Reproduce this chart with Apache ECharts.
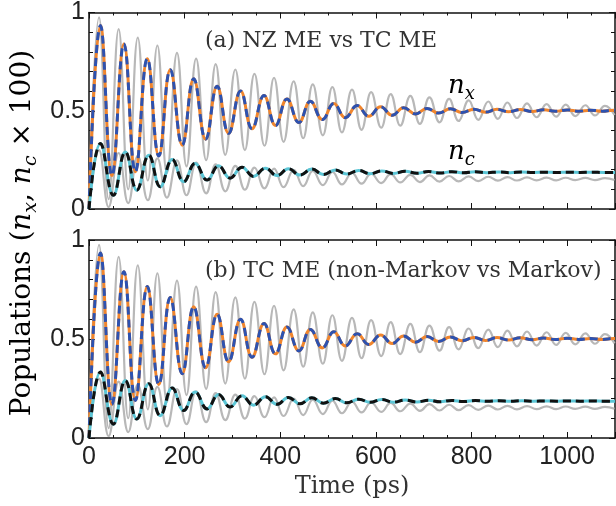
<!DOCTYPE html>
<html><head><meta charset="utf-8">
<script src="https://cdn.jsdelivr.net/npm/echarts@6/dist/echarts.min.js"></script>
<style>html,body{margin:0;padding:0;background:#fff}#c{width:616px;height:506px}</style>
</head><body><div id="c"></div>
<script>
// n_x (TC ME / NZ ME, overlapping) : [time ps, population]
const nxTC = [[0,0],[24,0.934],[48,0.17],[73,0.84],[97,0.19],[122,0.765],[146,0.27],[170,0.709],[195,0.325],[219,0.663],[244,0.355],[268,0.625],[292,0.385],[317,0.6],[341,0.408],[366,0.578],[390,0.425],[414,0.56],[439,0.44],[463,0.548],[488,0.455],[512,0.537],[536,0.465],[561,0.527],[585,0.472],[610,0.52],[634,0.477],[658,0.515],[683,0.484],[707,0.512],[731,0.488],[756,0.51],[780,0.491],[805,0.508],[829,0.493],[853,0.507],[878,0.495],[902,0.506],[927,0.496],[951,0.505],[975,0.497],[1000,0.504],[1024,0.498],[1049,0.503],[1073,0.498],[1097,0.503],[1100,0.503]];
const nxNZ = nxTC;
// n_c x 100
const ncTC = [[0,0],[24,0.333],[51,0.07],[76,0.29],[100,0.096],[125,0.274],[149,0.113],[174,0.252],[198,0.139],[222,0.232],[247,0.147],[271,0.22],[295,0.157],[320,0.213],[344,0.166],[369,0.208],[393,0.17],[417,0.205],[441,0.173],[466,0.203],[490,0.176],[515,0.199],[539,0.178],[564,0.196],[588,0.18],[612,0.194],[637,0.181],[661,0.192],[686,0.182],[710,0.191],[734,0.183],[759,0.19],[783,0.184],[808,0.189],[832,0.185],[857,0.188],[881,0.185],[905,0.188],[930,0.186],[954,0.187],[979,0.186],[1003,0.187],[1027,0.186],[1052,0.187],[1076,0.186],[1100,0.186]];
const ncNZ = ncTC;
// grey reference curves
const grayNx = [[0,0],[21,0.975],[41,0.05],[62,0.915],[82,0.1],[102,0.872],[123,0.145],[143,0.832],[163,0.183],[184,0.795],[204,0.217],[224,0.765],[245,0.248],[265,0.737],[285,0.275],[306,0.71],[326,0.3],[346,0.688],[367,0.322],[387,0.668],[407,0.342],[428,0.65],[448,0.36],[468,0.634],[489,0.375],[509,0.62],[529,0.39],[550,0.607],[570,0.403],[590,0.595],[611,0.414],[631,0.585],[651,0.424],[672,0.576],[692,0.433],[712,0.568],[733,0.441],[753,0.56],[773,0.448],[794,0.553],[814,0.454],[835,0.547],[855,0.459],[875,0.542],[895,0.463],[916,0.538],[936,0.467],[957,0.534],[977,0.47],[997,0.531],[1017,0.473],[1038,0.528],[1058,0.476],[1079,0.525],[1099,0.478]];
const grayNc = [[0,0],[21,0.3],[41,0.01],[62,0.285],[82,0.03],[102,0.27],[123,0.045],[143,0.258],[163,0.058],[184,0.247],[204,0.07],[224,0.236],[245,0.08],[265,0.227],[285,0.09],[306,0.219],[326,0.098],[346,0.211],[367,0.105],[387,0.205],[407,0.111],[428,0.199],[448,0.116],[468,0.194],[489,0.121],[509,0.189],[529,0.125],[550,0.184],[570,0.129],[590,0.18],[611,0.132],[631,0.177],[651,0.135],[672,0.174],[692,0.137],[712,0.171],[733,0.139],[753,0.168],[773,0.141],[794,0.166],[814,0.142],[835,0.164],[855,0.144],[875,0.162],[895,0.145],[916,0.161],[936,0.146],[957,0.16],[977,0.146],[997,0.159],[1017,0.147],[1038,0.158],[1058,0.147],[1079,0.157],[1099,0.148]];

const panelTitles = ['(a) NZ ME vs TC ME', '(b) TC ME (non-Markov vs Markov)'];
const xName = 'Time (ps)';

const chart = echarts.init(document.getElementById('c'), null, {renderer:'canvas'});
const AX = '#111';
function xAx(g, pos, labels){
  return {type:'value', gridIndex:g, position:pos, min:0, max:1100, interval:200,
    axisLine:{show:true, onZero:false, lineStyle:{color:AX, width:1.5}},
    axisTick:{show:true, inside:true, length:6, lineStyle:{color:AX, width:1}},
    minorTick:{show:true, splitNumber:4, length:3, lineStyle:{color:AX, width:1}},
    axisLabel:{show:labels, fontFamily:'Liberation Sans', fontSize:25, color:'#222', margin:7, formatter:v=>String(v)},
    splitLine:{show:false}, minorSplitLine:{show:false}};
}
function yAx(g, pos, labels){
  return {type:'value', gridIndex:g, position:pos, min:0, max:1, interval:0.5,
    axisLine:{show:true, onZero:false, lineStyle:{color:AX, width:1.5}},
    axisTick:{show:true, inside:true, length:6, lineStyle:{color:AX, width:1}},
    minorTick:{show:true, splitNumber:5, length:4, lineStyle:{color:AX, width:1}},
    axisLabel:{show:labels, fontFamily:'Liberation Sans', fontSize:25, color:'#222', margin:4, formatter:v=>String(v)},
    splitLine:{show:false}, minorSplitLine:{show:false}};
}
function ln(data, color, width, dashed, xi, yi){
  return {type:'line', data:data, xAxisIndex:xi, yAxisIndex:yi, showSymbol:false, smooth:0.45,
    silent:true, lineStyle:{color:color, width:width, type: dashed ? [8,5] : 'solid', cap:'butt'}};
}
const GRAY='#b8b8b8', OR='#f0852d', BL='#2d52b0', CY='#5cc6d6', BK='#111';
const series = [];
[[0,0],[2,2]].forEach(([xi,yi])=>{
  series.push(ln(grayNx, GRAY, 2.2, false, xi, yi));
  series.push(ln(grayNc, GRAY, 2.2, false, xi, yi));
  series.push(ln(nxTC, OR, 3, false, xi, yi));
  series.push(ln(nxNZ, BL, 3, true, xi, yi));
  series.push(ln(ncTC, CY, 3, false, xi, yi));
  series.push(ln(ncNZ, BK, 3, true, xi, yi));
});
const serif = 'DejaVu Serif';
const richY = {
  r:{fontFamily:serif, fontSize:28, color:'#333', lineHeight:36},
  i:{fontFamily:serif, fontStyle:'italic', fontSize:28, color:'#333', lineHeight:36},
  s:{fontFamily:serif, fontStyle:'italic', fontSize:19, color:'#333', lineHeight:19, verticalAlign:'bottom'}
};
const richN = {
  i:{fontFamily:serif, fontStyle:'italic', fontSize:26, color:'#333', lineHeight:34},
  s:{fontFamily:serif, fontStyle:'italic', fontSize:18, color:'#333', lineHeight:18, verticalAlign:'bottom'}
};
chart.setOption({
  animation:false,
  grid:[{left:89, top:12, width:526, height:197},{left:89, top:240, width:526, height:198}],
  xAxis:[xAx(0,'bottom',false), xAx(0,'top',false), xAx(1,'bottom',true), xAx(1,'top',false)],
  yAxis:[yAx(0,'left',true), yAx(0,'right',false), yAx(1,'left',true), yAx(1,'right',false)],
  series: series,
  graphic:[
    {type:'text', x:205, y:41, style:{text:panelTitles[0], fontFamily:serif, fontSize:22, fill:'#333', verticalAlign:'middle'}},
    {type:'text', x:205, y:271, style:{text:panelTitles[1], fontFamily:serif, fontSize:22, fill:'#333', verticalAlign:'middle'}},
    {type:'text', x:448, y:86, style:{text:'{i|n}{s|x}', rich:richN, verticalAlign:'middle'}},
    {type:'text', x:448, y:152, style:{text:'{i|n}{s|c}', rich:richN, verticalAlign:'middle'}},
    {type:'text', x:352, y:487, style:{text:xName, fontFamily:serif, fontSize:24, fill:'#333', align:'center', verticalAlign:'middle'}},
    {type:'text', x:23, y:233, rotation:Math.PI/2, style:{text:'{r|Populations (}{i|n}{s|x}{r|, }{i|n}{s|c}{r| × 100)}', rich:richY, align:'center', verticalAlign:'middle'}}
  ]
});
</script></body></html>
